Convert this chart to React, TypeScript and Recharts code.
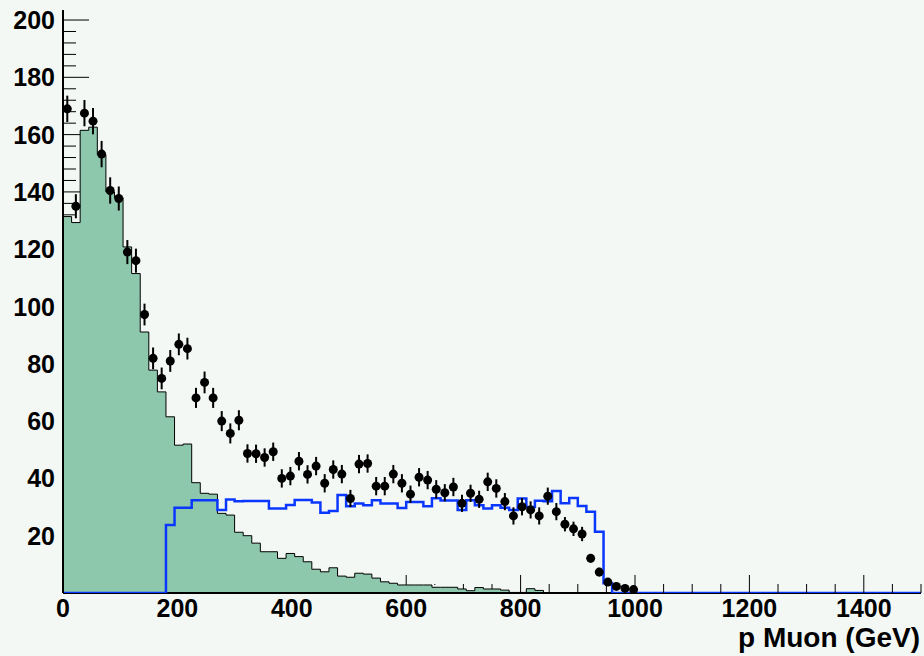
import React from "react";
import {
  ComposedChart,
  Area,
  Line,
  Scatter,
  ErrorBar,
  XAxis,
  YAxis,
  ReferenceLine,
} from "recharts";

// 100 bins of 15 GeV, 0..1500
const binWidth = 15;

// filled green histogram (background MC)
const greenCounts = [
  131.4, 129.3, 161.5, 162.6, 153, 140, 138, 120.8, 111.5, 91.1,
  77.8, 70.2, 61.5, 51.6, 52, 38.5, 34.8, 34.5, 27.8, 27.2,
  21.2, 20, 17.4, 14.4, 14.4, 12.1, 13.8, 12.7, 10.9, 8.3,
  7.4, 8.8, 5.9, 5.5, 6.9, 6.6, 5.2, 3.9, 3.4, 2.8,
  2.8, 2.8, 2.8, 2, 2, 2, 1.4, 0.8, 1.9, 1.4,
  1.4, 1, 0.2, 0.2, 1.5, 0.9, 0, 0, 0, 0,
  0, 0, 0, 0, 0, 0, 0, 0, 0, 0,
  0, 0, 0, 0, 0, 0, 0, 0, 0, 0,
  0, 0, 0, 0, 0, 0, 0, 0, 0, 0,
  0, 0, 0, 0, 0, 0, 0, 0, 0, 0,
];

// blue outline histogram (signal)
const blueCounts = [
  0, 0, 0, 0, 0, 0, 0, 0, 0, 0,
  0, 0, 23.7, 29.8, 29.8, 32.4, 32.4, 32.4, 29, 32.6,
  32, 32.1, 32.1, 32.1, 29.5, 29.5, 30.7, 32.5, 32.5, 31.6,
  28, 28.6, 34.2, 30.3, 31.2, 30.6, 32.4, 31.2, 31.2, 29.7,
  31.8, 31.8, 30.3, 33.1, 32.3, 32.3, 29, 32.4, 30.6, 29.5,
  30.6, 29.8, 29, 33, 30, 32.2, 32, 35.6, 31.3, 33.2,
  30.4, 28.4, 21.4, 3.4, 0, 0, 0, 0, 0, 0,
  0, 0, 0, 0, 0, 0, 0, 0, 0, 0,
  0, 0, 0, 0, 0, 0, 0, 0, 0, 0,
  0, 0, 0, 0, 0, 0, 0, 0, 0, 0,
];

// data points, first 67 bins
const dataCounts = [
  169, 135, 167.5, 164.7, 153.2, 140.5, 137.7, 119, 116, 97.2,
  81.9, 74.9, 81, 86.8, 85.3, 68.1, 73.5, 68.1, 60, 55.7,
  60.3, 48.7, 48.6, 47.3, 49.3, 40, 40.8, 46, 41.4, 44.3,
  38.3, 43.1, 41.5, 33, 45, 45.2, 37.3, 37.3, 41.5, 38.3,
  34.5, 40.4, 39.4, 36.2, 35, 37, 31.3, 34.8, 32.7, 38.8,
  36.5, 31.9, 26.9, 30.1, 29, 26.9, 33.8, 28.4, 24, 22.4,
  20.6, 12.1, 7.3, 3.8, 2.3, 1.6, 1.2,
];

const dataErrors = [
  4.6, 4.2, 4.6, 4.6, 4.6, 4.6, 4.2, 4.2, 4.2, 3.8,
  3.8, 3.8, 3.8, 3.8, 3.8, 3.5, 3.8, 3.5, 3.5, 3.5,
  3.5, 3.2, 3.2, 3.2, 3.2, 3.2, 3.2, 3.2, 3.2, 3.2,
  3.2, 3.2, 3.2, 3, 3.2, 3.2, 3.2, 3.2, 3.2, 3.2,
  3, 3.2, 3.2, 3.2, 3, 3.2, 3, 3, 3, 3.2,
  3.2, 3, 3, 3, 3, 3, 3, 3, 2.5, 2.5,
  2.5, 1.5, 1.5, 0.8, 0.8, 0.8, 0.8,
];

const xLabels = [0, 200, 400, 600, 800, 1000, 1200, 1400];
const yLabels = [20, 40, 60, 80, 100, 120, 140, 160, 180, 200];

const xTicks = Array.from({ length: 31 }, (_, i) => i * 50);
const yTicks = Array.from({ length: 51 }, (_, i) => i * 4);

const FONT = '"Liberation Sans", Arial, Helvetica, sans-serif';
const BG = "#f4f8f5";

// plot box
const MARGIN = { top: 10, right: 3, bottom: 0, left: 0 };
const Y_AXIS_W = 63;
const X_AXIS_H = 63;
const PLOT_W = 924 - MARGIN.left - MARGIN.right - Y_AXIS_W;
const PLOT_H = 656 - MARGIN.top - MARGIN.bottom - X_AXIS_H;
const X_MAX = 1500;
const Y_MAX = 203.5;
const binPx = (PLOT_W * binWidth) / X_MAX;
const unitPx = PLOT_H / Y_MAX;

const stepRows = (counts: number[], key: string) => [
  ...counts.map((v, i) => ({ x: i * binWidth, [key]: v })),
  { x: counts.length * binWidth, [key]: counts[counts.length - 1] },
];

const greenRows = stepRows(greenCounts, "g");
const blueRows = stepRows(blueCounts, "b");
const pointRows = dataCounts.map((v, i) => ({
  x: (i + 0.5) * binWidth,
  y: v,
  e: dataErrors[i],
}));

// the filled histogram hides the part of a left tick that lies under it
const leftTickEnd = (x: number, v: number, len: number) => {
  for (let j = 0; j * binPx < len; j++) {
    if (v < greenCounts[j]) return x + j * binPx;
  }
  return x + len;
};

const LeftTick = (props: any) => {
  const { x, y, payload } = props;
  const v = payload.value;
  const major = v % 20 === 0;
  const end = leftTickEnd(x, v, major ? 26 : 13);
  return (
    <g>
      {end > x && <line x1={x} y1={y} x2={end} y2={y} stroke="#000" />}
      {major && yLabels.includes(v) && (
        <text
          x={x - 8}
          y={y + 9}
          textAnchor="end"
          fontFamily={FONT}
          fontWeight="bold"
          fontSize={25}
          fill="#000"
        >
          {v}
        </text>
      )}
    </g>
  );
};

const RightTick = (props: any) => {
  const { x, y, payload } = props;
  const major = payload.value % 20 === 0;
  return <line x1={x} y1={y} x2={x - (major ? 26 : 13)} y2={y} stroke="#000" />;
};

const BottomTick = (props: any) => {
  const { x, y, payload } = props;
  const v = payload.value;
  const major = xLabels.includes(v);
  const len = major ? 18 : 9;
  const k = Math.round(v / binWidth);
  const under = Math.max(greenCounts[k - 1] ?? 0, greenCounts[k] ?? 0) * unitPx;
  return (
    <g>
      {under < len && (
        <line x1={x} y1={y - under} x2={x} y2={y - len} stroke="#000" />
      )}
      {major && (
        <text
          x={x}
          y={y + 24}
          textAnchor="middle"
          fontFamily={FONT}
          fontWeight="bold"
          fontSize={25}
          fill="#000"
        >
          {v}
        </text>
      )}
    </g>
  );
};

const DataDot = (props: any) => {
  const { cx, cy } = props;
  return <circle cx={cx} cy={cy} r={4.5} fill="#000" />;
};

const App = () => {
  return (
    <div
      style={{
        position: "absolute",
        left: 0,
        top: 0,
        width: 924,
        height: 656,
        background: BG,
      }}
    >
      <ComposedChart width={924} height={656} margin={MARGIN}>
        <XAxis
          dataKey="x"
          type="number"
          domain={[0, X_MAX]}
          allowDataOverflow
          ticks={xTicks}
          interval={0}
          height={X_AXIS_H}
          tickSize={0}
          tickMargin={0}
          tickLine={false}
          tick={BottomTick}
          axisLine={false}
          label={{
            position: "insideBottomRight",
            content: (p: any) => {
              const vb = p.viewBox;
              return (
                <text
                  x={vb.x + vb.width - 1}
                  y={vb.y + 54}
                  textAnchor="end"
                  fontFamily={FONT}
                  fontWeight="bold"
                  fontSize={28}
                  fill="#000"
                >
                  p Muon (GeV)
                </text>
              );
            },
          }}
        />
        <XAxis
          xAxisId="top"
          orientation="top"
          type="number"
          domain={[0, X_MAX]}
          height={0}
          tick={false}
          tickLine={false}
          axisLine={{ stroke: "#000", strokeWidth: 2 }}
        />
        <YAxis
          type="number"
          domain={[0, Y_MAX]}
          allowDataOverflow
          ticks={yTicks}
          interval={0}
          width={Y_AXIS_W}
          tickSize={0}
          tickMargin={0}
          tickLine={false}
          tick={LeftTick}
          axisLine={{ stroke: "#000", strokeWidth: 2 }}
        />
        <YAxis
          yAxisId="right"
          orientation="right"
          type="number"
          domain={[0, Y_MAX]}
          allowDataOverflow
          ticks={yTicks}
          interval={0}
          width={0}
          tickSize={0}
          tickMargin={0}
          tickLine={false}
          tick={RightTick}
          axisLine={{ stroke: "#000", strokeWidth: 2 }}
        />
        <ReferenceLine y={0} stroke="#000" strokeWidth={2} />
        <Area
          data={greenRows}
          dataKey="g"
          type="stepAfter"
          baseValue={0}
          fill="#8dc8ad"
          fillOpacity={1}
          stroke="#000"
          strokeWidth={1}
          isAnimationActive={false}
        />
        <Line
          data={blueRows}
          dataKey="b"
          type="stepAfter"
          stroke="#0a37ff"
          strokeWidth={2.5}
          dot={false}
          activeDot={false}
          isAnimationActive={false}
        />
        <Scatter
          data={pointRows}
          dataKey="y"
          fill="#000"
          shape={DataDot}
          isAnimationActive={false}
        >
          <ErrorBar
            dataKey="e"
            direction="y"
            width={0}
            stroke="#000"
            strokeWidth={2}
          />
        </Scatter>
      </ComposedChart>
    </div>
  );
};

export default App;
